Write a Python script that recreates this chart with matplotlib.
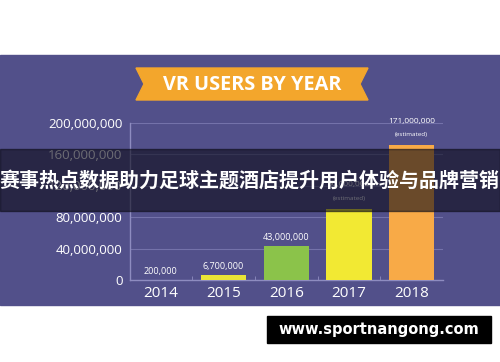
import matplotlib
matplotlib.use("Agg")
import matplotlib.pyplot as plt
from matplotlib.patches import Rectangle, Polygon

# Datos del gráfico
years = ["2014", "2015", "2016", "2017", "2018"]
users = [200000, 6700000, 43000000, 90000000, 171000000]
value_labels = ["200,000", "6,700,000", "43,000,000", "90,000,000", "171,000,000"]
estimated = [False, False, False, True, True]
bar_colors = ["#f4a13f", "#e9e436", "#8bc34a", "#f2e933", "#f8aa47"]
y_ticks = [0, 40000000, 80000000, 120000000, 160000000, 200000000]
y_tick_labels = ["0", "40,000,000", "80,000,000", "120,000,000", "160,000,000", "200,000,000"]

title = "VR USERS BY YEAR"
banner_text = "赛事热点数据助力足球主题酒店提升用户体验与品牌营销"
site_text = "www.sportnangong.com"

W, H = 500, 362
purple = "#52508a"
light = "#8e8cc0"

fig = plt.figure(figsize=(W / 100, H / 100), dpi=100)
fig.patch.set_facecolor("white")

# Fondo en coordenadas de píxel
bg = fig.add_axes([0, 0, 1, 1], zorder=0)
bg.set_xlim(0, W)
bg.set_ylim(H, 0)
bg.axis("off")
bg.add_patch(Rectangle((0, 55), W, 250, color=purple))
bg.add_patch(Polygon([(136, 68), (368, 68), (360, 84), (368, 100),
                      (136, 100), (144, 84)], closed=True, color="#f3a62c"))
bg.text(252, 85, title, color="white", fontsize=14.3, fontweight="bold",
        family="Open Sans", ha="center", va="center")

# Gráfico de barras
ax = fig.add_axes([129.5 / W, 1 - 280 / H, (443 - 129.5) / W, (280 - 122.5) / H], zorder=1)
ax.patch.set_alpha(0)
x = list(range(len(years)))
ax.bar(x, users, width=0.72, color=bar_colors, zorder=3)
ax.set_xlim(-0.5, 4.5)
ax.set_ylim(0, 200000000)
ax.set_xticks(x)
ax.set_xticklabels(years, color="white", fontsize=11, family="Open Sans")
ax.set_xticks([0.5, 1.5, 2.5, 3.5], minor=True)
ax.set_yticks(y_ticks)
ax.set_yticklabels(y_tick_labels, color="white", fontsize=9.5, family="Open Sans")
ax.tick_params(axis="x", which="major", length=0, pad=4)
ax.tick_params(axis="x", which="minor", length=3, direction="in", color=light)
ax.tick_params(axis="y", length=0, pad=5)
for s in ["top", "right"]:
    ax.spines[s].set_visible(False)
for s in ["left", "bottom"]:
    ax.spines[s].set_color(light)
    ax.spines[s].set_linewidth(1)
ax.grid(axis="y", color="#7472aa", linewidth=0.8, zorder=0)

for i, v in enumerate(users):
    if estimated[i]:
        ax.annotate(value_labels[i], (i, v), xytext=(0, 15), textcoords="offset points",
                    ha="center", va="bottom", color="white", fontsize=6, family="Open Sans")
        ax.annotate("(estimated)", (i, v), xytext=(0, 6), textcoords="offset points",
                    ha="center", va="bottom", color="white", fontsize=4.5, family="Open Sans")
    else:
        ax.annotate(value_labels[i], (i, v), xytext=(0, 3), textcoords="offset points",
                    ha="center", va="bottom", color="white", fontsize=6.5, family="Open Sans")

# Banda superpuesta y marca de agua
top = fig.add_axes([0, 0, 1, 1], zorder=5)
top.set_xlim(0, W)
top.set_ylim(H, 0)
top.axis("off")
top.patch.set_alpha(0)
top.add_patch(Rectangle((0, 149), W, 62, color="#0c0b18", alpha=0.6))
top.text(W / 2, 180, banner_text, color="white", fontsize=14.4, fontweight="bold",
         family=["Noto Sans CJK SC", "DejaVu Sans"], ha="center", va="center")
top.add_patch(Rectangle((267, 316), 224, 27, color="black"))
top.text(379, 329.5, site_text, color="white", fontsize=10.5, fontweight="bold",
         family="DejaVu Sans", ha="center", va="center")

fig.savefig("out.png", dpi=100)
